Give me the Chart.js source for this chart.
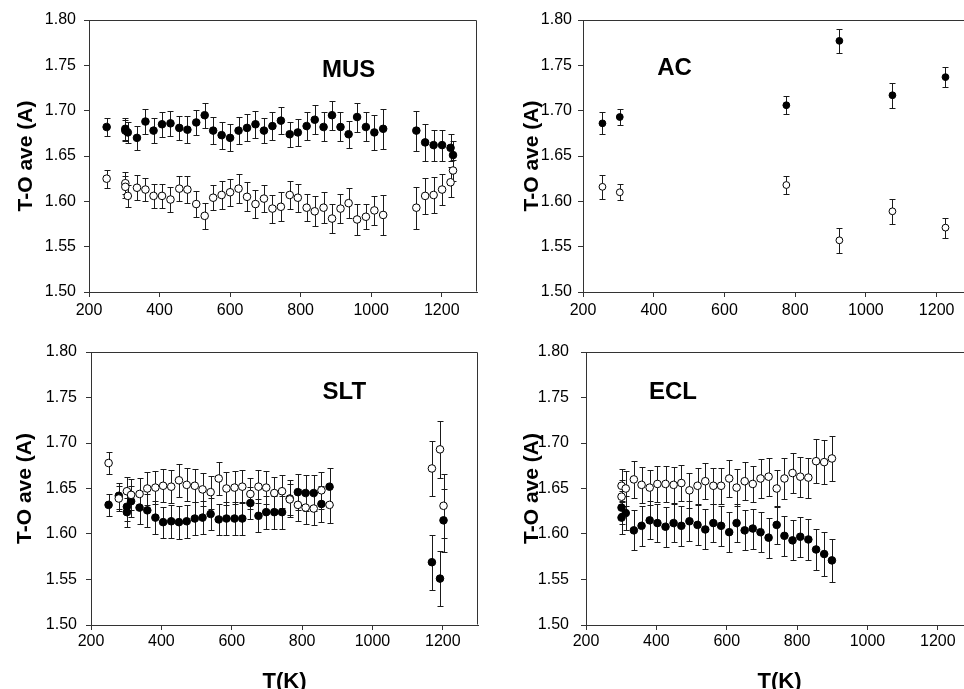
<!DOCTYPE html>
<html><head><meta charset="utf-8">
<script src="https://cdn.jsdelivr.net/npm/chart.js@4.4.1/dist/chart.umd.min.js"></script>
<style>
html,body{margin:0;padding:0;background:#fff;overflow:hidden;width:964px;height:689px;position:relative;}
canvas{position:absolute;}
</style></head><body>
<canvas id="c1" width="482" height="330" style="left:0px;top:0px"></canvas>
<canvas id="c2" width="483" height="330" style="left:494px;top:0px"></canvas>
<canvas id="c3" width="483" height="370" style="left:0px;top:330px"></canvas>
<canvas id="c4" width="484" height="370" style="left:494px;top:330px"></canvas>
<script>
// ---------- tick labels ----------
const xTicks = [200, 400, 600, 800, 1000, 1200];
const yTicks = [1.50, 1.55, 1.60, 1.65, 1.70, 1.75, 1.80];

// ---------- MUS ----------
const musT = [250,303,303,310,336,360,383,407,431,456,479,504,528,552,576,600,624,648,672,696,720,744,769,792,817,840,865,889,913,936,960,985,1009,1034,1128,1153,1177,1201,1225,1232];
const musOpenV = [1.625,1.620,1.616,1.606,1.615,1.613,1.606,1.606,1.602,1.614,1.613,1.597,1.584,1.604,1.607,1.610,1.614,1.605,1.597,1.603,1.592,1.594,1.607,1.604,1.593,1.589,1.593,1.581,1.592,1.598,1.580,1.583,1.590,1.585,1.593,1.606,1.607,1.613,1.621,1.634];
const musOpenE = [0.010,0.012,0.012,0.012,0.0135,0.013,0.0135,0.0135,0.014,0.014,0.0145,0.014,0.0145,0.014,0.015,0.015,0.016,0.016,0.015,0.015,0.0155,0.016,0.015,0.0155,0.015,0.0165,0.017,0.016,0.016,0.0165,0.017,0.014,0.016,0.022,0.023,0.020,0.020,0.017,0.0165,0.012];
const musFillV = [1.682,1.680,1.678,1.676,1.670,1.688,1.678,1.685,1.686,1.681,1.679,1.687,1.695,1.678,1.673,1.670,1.678,1.681,1.685,1.678,1.683,1.689,1.674,1.676,1.683,1.690,1.682,1.695,1.682,1.674,1.693,1.682,1.676,1.680,1.678,1.665,1.662,1.662,1.659,1.651];
const musFillE = [0.010,0.012,0.012,0.012,0.013,0.0136,0.0136,0.014,0.014,0.013,0.015,0.014,0.014,0.015,0.015,0.015,0.015,0.015,0.015,0.014,0.015,0.015,0.014,0.015,0.015,0.016,0.016,0.016,0.016,0.015,0.016,0.016,0.019,0.022,0.022,0.020,0.017,0.017,0.015,0.015];

// ---------- AC ----------
const acT = [255,304,775,925,1075,1225];
const acOpenV = [1.616,1.610,1.618,1.557,1.589,1.571];
const acOpenE = [0.013,0.009,0.010,0.0136,0.014,0.011];
const acFillV = [1.686,1.693,1.706,1.777,1.717,1.737];
const acFillE = [0.012,0.0087,0.0097,0.013,0.014,0.011];

// ---------- SLT ----------
const sltOpenT = [250,279,302,314,338,360,383,405,428,450,472,495,517,540,563,585,608,630,653,676,698,721,743,765,788,810,833,855,878,1169,1192,1202];
const sltOpenV = [1.678,1.639,1.647,1.643,1.644,1.650,1.651,1.653,1.652,1.659,1.654,1.653,1.649,1.646,1.661,1.650,1.651,1.652,1.644,1.652,1.651,1.645,1.647,1.638,1.632,1.629,1.628,1.648,1.632,1.672,1.693,1.631];
const sltOpenE = [0.012,0.014,0.016,0.017,0.017,0.018,0.018,0.018,0.018,0.018,0.018,0.018,0.018,0.018,0.018,0.018,0.018,0.018,0.017,0.018,0.018,0.018,0.018,0.017,0.018,0.018,0.018,0.020,0.020,0.030,0.031,0.035];
const sltFillT = [250,279,302,302,314,338,360,383,405,428,450,472,495,517,540,563,585,608,630,653,676,698,721,743,765,788,810,833,855,878,1169,1192,1202];
const sltFillV = [1.632,1.642,1.630,1.624,1.636,1.629,1.626,1.618,1.613,1.614,1.613,1.614,1.617,1.618,1.622,1.616,1.617,1.617,1.617,1.634,1.620,1.624,1.624,1.624,1.639,1.646,1.645,1.645,1.633,1.652,1.569,1.551,1.615];
const sltFillE = [0.012,0.014,0.016,0.016,0.017,0.018,0.018,0.018,0.017,0.018,0.018,0.018,0.018,0.018,0.018,0.017,0.018,0.018,0.018,0.018,0.018,0.018,0.018,0.018,0.020,0.020,0.020,0.020,0.020,0.020,0.030,0.030,0.035];

// ---------- ECL ----------
const eclT = [301,301,313,336,358,381,403,426,449,471,494,517,539,562,584,607,628,651,674,696,719,742,764,787,809,832,854,877,899];
const eclOpenV = [1.653,1.641,1.650,1.660,1.654,1.651,1.655,1.655,1.654,1.656,1.648,1.653,1.658,1.653,1.653,1.661,1.651,1.658,1.655,1.661,1.663,1.650,1.661,1.667,1.663,1.662,1.680,1.679,1.683];
const eclOpenE = [0.018,0.018,0.019,0.020,0.020,0.019,0.020,0.020,0.020,0.020,0.019,0.020,0.020,0.020,0.020,0.020,0.020,0.021,0.020,0.021,0.021,0.020,0.022,0.022,0.022,0.022,0.024,0.024,0.025];
const eclFillV = [1.629,1.618,1.623,1.604,1.609,1.615,1.612,1.608,1.612,1.609,1.614,1.610,1.605,1.612,1.609,1.602,1.612,1.604,1.606,1.602,1.596,1.610,1.598,1.593,1.597,1.594,1.583,1.578,1.571];
const eclFillE = [0.018,0.018,0.019,0.022,0.022,0.021,0.021,0.022,0.021,0.022,0.022,0.022,0.022,0.021,0.022,0.022,0.021,0.022,0.022,0.022,0.022,0.021,0.022,0.022,0.022,0.023,0.023,0.024,0.024];

// ---------- drawing ----------
const FONT = "Arial, 'Liberation Sans', sans-serif";
const AX = '#333333';

const errPlugin = {
  id: 'errbars',
  beforeDatasetsDraw(chart) {
    const {ctx, scales: {x, y}} = chart;
    ctx.save();
    ctx.strokeStyle = '#1a1a1a';
    ctx.lineWidth = 1;
    chart.data.datasets.forEach(ds => {
      ds.data.forEach((pt, i) => {
        const e = ds.err[i];
        const px = Math.round(x.getPixelForValue(pt.x)) + 0.5;
        const yt = Math.round(y.getPixelForValue(pt.y + e)) + 0.5;
        const yb = Math.round(y.getPixelForValue(pt.y - e)) + 0.5;
        ctx.beginPath();
        ctx.moveTo(px, yt); ctx.lineTo(px, yb);
        ctx.moveTo(px - 3, yt); ctx.lineTo(px + 3, yt);
        ctx.moveTo(px - 3, yb); ctx.lineTo(px + 3, yb);
        ctx.stroke();
      });
    });
    ctx.restore();
  }
};

const framePlugin = {
  id: 'frame',
  afterDraw(chart, args, opts) {
    const {ctx, chartArea: a, scales: {x, y}} = chart;
    ctx.save();
    ctx.strokeStyle = AX;
    ctx.lineWidth = 1;
    const l = Math.round(a.left) + 0.5, t = Math.round(a.top) + 0.5;
    const r = Math.round(a.right) - 0.5, b = Math.round(a.bottom) - 0.5;
    ctx.beginPath();
    ctx.moveTo(l, t); ctx.lineTo(r, t); ctx.lineTo(r, b);
    ctx.stroke();
    // panel label at data coordinates
    ctx.fillStyle = '#000';
    ctx.font = 'bold 24px ' + FONT;
    ctx.textAlign = 'center';
    ctx.textBaseline = 'middle';
    ctx.fillText(opts.text, x.getPixelForValue(opts.at[0]), y.getPixelForValue(opts.at[1]));
    ctx.restore();
  }
};

function pts(T, V) { return T.map((t, i) => ({x: t, y: V[i]})); }

function makePanel(id, p) {
  const datasets = [
    {label: p.name + ' open', data: pts(p.openT, p.openV), err: p.openE,
     pointRadius: p.r, pointBackgroundColor: '#ffffff', pointBorderColor: '#000000', pointBorderWidth: 1},
    {label: p.name + ' filled', data: pts(p.fillT, p.fillV), err: p.fillE,
     pointRadius: p.r, pointBackgroundColor: '#000000', pointBorderColor: '#000000', pointBorderWidth: 1}
  ];
  new Chart(document.getElementById(id), {
    type: 'scatter',
    data: {datasets},
    options: {
      responsive: false, animation: false, devicePixelRatio: 1, events: [],
      layout: {padding: {left: 0, top: p.top, right: 3, bottom: 0}},
      plugins: {legend: {display: false}, tooltip: {enabled: false},
                frame: {text: p.name, at: p.labelAt}},
      scales: {
        x: {
          type: 'linear', position: 'bottom', min: 200, max: 1300,
          afterBuildTicks: s => { s.ticks = xTicks.map(v => ({value: v})); },
          afterFit: s => { s.height = p.xH; },
          grid: {drawOnChartArea: false, drawTicks: true, tickLength: 5, color: AX},
          border: {display: true, color: AX, width: 1},
          ticks: {color: '#000', font: {family: FONT, size: 16}, padding: p.xPad,
                  maxRotation: 0, autoSkip: false, callback: v => String(v)},
          title: p.xTitle ? {display: true, text: 'T(K)', color: '#000',
                  font: {family: FONT, size: 22, weight: 'bold', lineHeight: 1.2},
                  padding: {top: 0, bottom: p.xTitlePad}} : {display: false}
        },
        y: {
          type: 'linear', min: 1.5, max: 1.8,
          afterBuildTicks: s => { s.ticks = yTicks.map(v => ({value: v})); },
          afterFit: s => { s.width = p.yW; },
          grid: {drawOnChartArea: false, drawTicks: true, tickLength: 5, color: AX},
          border: {display: true, color: AX, width: 1},
          ticks: {color: '#000', font: {family: FONT, size: 16}, padding: p.yPad,
                  callback: v => Number(v).toFixed(2)},
          title: {display: true, text: 'T-O ave (A)', color: '#000',
                  font: {family: FONT, size: 21, weight: 'bold', lineHeight: 1.2},
                  padding: {top: p.yTitlePad, bottom: 0}}
        }
      }
    },
    plugins: [errPlugin, framePlugin]
  });
}

makePanel('c1', {name: 'MUS', openT: musT, openV: musOpenV, openE: musOpenE,
  fillT: musT, fillV: musFillV, fillE: musFillE, r: 3.8,
  top: 20, yW: 89, xH: 38, xPad: 4, yPad: 8, yTitlePad: 14, xTitle: false, labelAt: [936, 1.744]});
makePanel('c2', {name: 'AC', openT: acT, openV: acOpenV, openE: acOpenE,
  fillT: acT, fillV: acFillV, fillE: acFillE, r: 3.4,
  top: 20, yW: 89, xH: 38, xPad: 4, yPad: 6, yTitlePad: 26, xTitle: false, labelAt: [459, 1.747]});
makePanel('c3', {name: 'SLT', openT: sltOpenT, openV: sltOpenV, openE: sltOpenE,
  fillT: sltFillT, fillV: sltFillV, fillE: sltFillE, r: 3.8,
  top: 22, yW: 91, xH: 75, xPad: 2, yPad: 9, yTitlePad: 13, xTitle: true, xTitlePad: 5, labelAt: [920, 1.756]});
makePanel('c4', {name: 'ECL', openT: eclT, openV: eclOpenV, openE: eclOpenE,
  fillT: eclT, fillV: eclFillV, fillE: eclFillE, r: 3.8,
  top: 22, yW: 92, xH: 75, xPad: 2, yPad: 12, yTitlePad: 26, xTitle: true, xTitlePad: 5, labelAt: [447, 1.756]});
</script>
</body></html>
